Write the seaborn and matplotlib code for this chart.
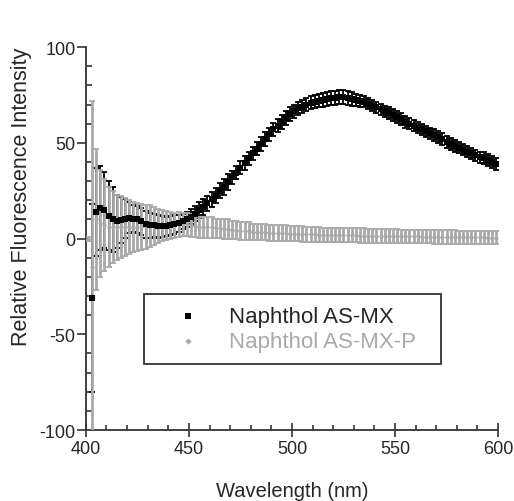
import numpy as np
import pandas as pd
import matplotlib
matplotlib.use("Agg")
import matplotlib.pyplot as plt
import seaborn as sns
from matplotlib.ticker import MultipleLocator

# wavelengths (nm), 2 nm steps
wavelength = list(range(401, 600, 2))

# Naphthol AS-MX (mean, sd)
mx_mean = [np.nan, -31, 14, 16, 15, 12, 10, 9, 9.5, 10.5,
           11, 10.5, 10, 9, 7.5, 7, 7, 6.5, 6.5, 6.5,
           7, 7.5, 8, 9, 10, 11.5, 13, 15, 16.5, 18.5,
           20.5, 22.5, 25, 27, 29.5, 32, 34.5, 37, 39.5, 42,
           44.5, 47, 49.5, 52, 54.5, 57, 59, 61, 63, 65,
           66.5, 68, 69, 70, 71, 71.5, 72, 72.5, 73, 73.5,
           73.5, 74, 74, 73.5, 73, 72.5, 72, 71.5, 70.5, 69.5,
           68.5, 67.5, 66.5, 65.5, 64.5, 63.5, 62.5, 61, 60, 59,
           58, 57, 56, 55, 54, 53, 52, 50.5, 49.5, 48.5,
           47.5, 46.5, 45.5, 44.5, 43.5, 42.5, 42, 41, 40, 39]
mx_err = [np.nan, 49, 23, 22, 20, 18, 17, 14, 12, 10,
          8, 7, 7, 7, 7, 6.5, 6, 6, 5.5, 5,
          5, 5, 4.5, 4, 4, 4, 4, 4, 4, 4,
          4, 4, 4, 4, 4, 3.5, 3.5, 3.5, 3.5, 3.5,
          3.5, 3.5, 3.5, 3.5, 3.5, 3.5, 3.5, 3.5, 3.5, 3.5,
          3.5, 3.5, 3.5, 3.5, 3.5, 3.5, 3.5, 3.5, 3.5, 3.5,
          3.5, 3.5, 3.5, 3.5, 3.5, 3, 3, 3, 3, 3,
          3, 3, 3, 3, 3, 3, 3, 3, 3, 3,
          3, 3, 3, 3, 3, 3, 3, 3, 3, 3,
          3, 3, 3, 3, 3, 3, 3, 3, 3, 3]

# Naphthol AS-MX-P (mean, sd)
mxp_mean = [0, -15, 10, 8, 7, 6, 6, 6, 6, 6,
            6, 6, 6, 6, 6, 6.5, 6.5, 6.5, 7, 7,
            7, 7, 7.5, 7.5, 7.5, 7, 6.5, 6, 6, 6,
            6, 5.5, 5.5, 5, 5, 4.5, 4.5, 4, 4, 4,
            3.5, 3.5, 3.5, 3.5, 3, 3, 3, 3, 3, 2.5,
            2.5, 2.5, 2.4, 2.3, 2.2, 2.2, 2.1, 2, 2, 1.9,
            1.9, 1.8, 1.8, 1.7, 1.7, 1.7, 1.6, 1.6, 1.5, 1.5,
            1.5, 1.4, 1.4, 1.3, 1.3, 1.3, 1.2, 1.2, 1.1, 1.1,
            1.1, 1, 1, 1, 0.9, 0.9, 0.9, 0.8, 0.8, 0.8,
            0.7, 0.7, 0.7, 0.6, 0.6, 0.6, 0.6, 0.5, 0.5, 0.5]
mxp_err = [1, 87, 37, 28, 24, 21, 19, 17, 16, 15,
           14, 13, 12.5, 12, 11.5, 11, 10, 9, 8, 7.5,
           7, 6.5, 6.5, 6, 6, 6, 5.5, 5.5, 5.5, 5.5,
           5.5, 5, 5, 5, 5, 4.5, 4.5, 4.5, 4.5, 4.5,
           4, 4, 4, 4, 4, 4, 4, 4, 4, 4,
           4, 4, 4, 4, 4, 4, 3.8, 3.8, 3.8, 3.8,
           3.8, 3.8, 3.8, 3.7, 3.7, 3.7, 3.7, 3.7, 3.6, 3.6,
           3.6, 3.6, 3.6, 3.5, 3.5, 3.5, 3.5, 3.5, 3.5, 3.5,
           3.5, 3.5, 3.5, 3.5, 3.5, 3.5, 3.5, 3.5, 3.5, 3.5,
           3.5, 3.5, 3.5, 3.5, 3.5, 3.5, 3.5, 3.5, 3.5, 3.5]

labels = ["Naphthol AS-MX", "Naphthol AS-MX-P"]
gray = "#a9a9a9"

df = pd.DataFrame({
    "Wavelength": wavelength * 2,
    "Intensity": mx_mean + mxp_mean,
    "Error": mx_err + mxp_err,
    "Compound": [labels[0]] * len(wavelength) + [labels[1]] * len(wavelength),
})

sns.set_style("ticks")
plt.rcParams["font.family"] = ["Liberation Sans", "DejaVu Sans"]
plt.rcParams["axes.unicode_minus"] = False

fig = plt.figure(figsize=(5.14, 5.02), dpi=100)
ax = fig.add_axes([0.167, 0.1414, 0.802, 0.7626])

# black bars under the gray ones, markers on top
sub = df[df["Compound"] == labels[0]]
ax.errorbar(sub["Wavelength"], sub["Intensity"], yerr=sub["Error"], fmt="none",
            ecolor="black", elinewidth=1.3, capsize=2.2, capthick=1.3, zorder=2)
sub = df[df["Compound"] == labels[1]]
ax.errorbar(sub["Wavelength"], sub["Intensity"], yerr=sub["Error"], fmt="none",
            ecolor=gray, elinewidth=2, capsize=2.2, capthick=1.3, zorder=3)

sns.scatterplot(data=df[df["Compound"] == labels[1]], x="Wavelength", y="Intensity",
                color=gray, marker="D", s=7, linewidth=0, ax=ax, zorder=4,
                label=labels[1])
sns.scatterplot(data=df[df["Compound"] == labels[0]], x="Wavelength", y="Intensity",
                color="black", marker="s", s=14, linewidth=0, ax=ax, zorder=5,
                label=labels[0])

ax.set_xlim(400, 600)
ax.set_ylim(-100, 100)
ax.xaxis.set_major_locator(MultipleLocator(50))
ax.xaxis.set_minor_locator(MultipleLocator(10))
ax.yaxis.set_major_locator(MultipleLocator(50))
ax.yaxis.set_minor_locator(MultipleLocator(10))
ax.tick_params(axis="x", which="major", direction="inout", length=10, width=1.2,
               labelsize=13, pad=2, color="#333333")
ax.tick_params(axis="x", which="minor", direction="in", length=3.5, width=1.2,
               color="#333333")
ax.tick_params(axis="y", which="major", direction="out", length=6.5, width=1.2,
               labelsize=13, pad=1, color="#333333")
ax.tick_params(axis="y", which="minor", direction="in", length=4, width=1.2,
               color="#333333")
for side in ["top", "right"]:
    ax.spines[side].set_visible(False)
for side in ["left", "bottom"]:
    ax.spines[side].set_linewidth(1.3)
    ax.spines[side].set_color("#333333")

ax.set_xlabel("Wavelength (nm)", fontsize=14.5)
ax.set_ylabel("Relative Fluorescence Intensity", fontsize=15.5)
ax.xaxis.set_label_coords(0.5, -0.133)
ax.yaxis.set_label_coords(-0.131, 0.611)

handles, labs = ax.get_legend_handles_labels()
order = [labs.index(l) for l in labels]
leg = ax.legend([handles[i] for i in order], [labs[i] for i in order],
                loc="center", bbox_to_anchor=(0.141, 0.170, 0.72, 0.188),
                mode="expand", fontsize=16, frameon=True, fancybox=False,
                borderpad=0.55, labelspacing=0.15, handlelength=2.9,
                handletextpad=0.36, markerscale=1.2, borderaxespad=0)
leg.get_frame().set_edgecolor("black")
leg.get_frame().set_linewidth(1.3)
leg.get_texts()[1].set_color(gray)

fig.savefig("out.png", dpi=100)
